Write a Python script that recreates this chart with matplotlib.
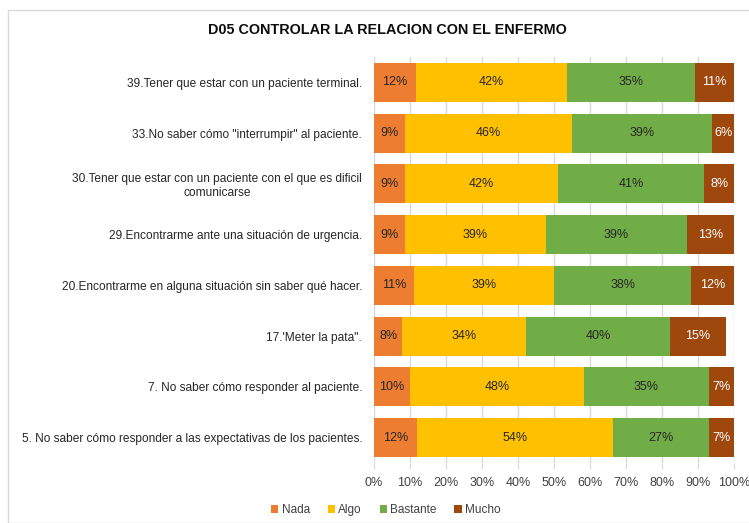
import matplotlib
matplotlib.use("Agg")
import matplotlib.pyplot as plt
from matplotlib.patches import Rectangle
from matplotlib.ticker import PercentFormatter

plt.rcParams['font.family'] = ['Liberation Sans', 'DejaVu Sans']

title = "D05 CONTROLAR LA RELACION CON EL ENFERMO"
categories = [
    "39.Tener que estar con un paciente terminal.",
    "33.No saber cómo \"interrumpir\" al paciente.",
    "30.Tener que estar con un paciente con el que es dificil\ncomunicarse",
    "29.Encontrarme ante una situación de urgencia.",
    "20.Encontrarme en alguna situación sin saber qué hacer.",
    "17.'Meter la pata\".",
    "7. No saber cómo responder al paciente.",
    "5. No saber cómo responder a las expectativas de los pacientes.",
]
series_names = ["Nada", "Algo", "Bastante", "Mucho"]
nada     = [11.7, 8.6, 8.6, 8.7, 11.1, 7.9, 10.1, 11.9]
algo     = [42.0, 46.3, 42.4, 39.0, 39.0, 34.2, 48.1, 54.4]
bastante = [35.4, 39.1, 40.8, 39.3, 38.0, 40.2, 34.9, 26.8]
mucho    = [10.9, 6.0, 8.2, 13.0, 11.9, 15.4, 6.9, 6.9]
colors = ["#ED7D31", "#FFC000", "#70AD47", "#9E480E"]
label_colors = ["#262626", "#262626", "#262626", "#FFFFFF"]

fig = plt.figure(figsize=(7.49, 5.23), dpi=100)
ax = fig.add_axes([374/749, 1-463/523, 360/749, (463-57)/523])

# chart border
fig.patches.append(Rectangle((8/749, 0), 1.0, 1-10/523, transform=fig.transFigure,
                             fill=False, edgecolor="#D9D9D9", linewidth=1.0))

ypos = list(range(len(categories)))[::-1]
left = [0.0]*len(categories)
for name, vals, c, lc in zip(series_names, [nada, algo, bastante, mucho], colors, label_colors):
    bars = ax.barh(ypos, vals, left=left, height=0.77, color=c, label=name, zorder=3)
    for b, v in zip(bars, vals):
        ax.text(b.get_x() + b.get_width()/2, b.get_y() + b.get_height()/2,
                f"{round(v):d}%", ha="center", va="center", color=lc, fontsize=9, zorder=4)
    left = [l + v for l, v in zip(left, vals)]

ax.set_xlim(0, 100)
ax.set_ylim(-0.5, len(categories) - 0.5)
ax.set_xticks(range(0, 101, 10))
ax.xaxis.set_major_formatter(PercentFormatter(decimals=0))
ax.set_yticks(ypos)
ax.set_yticklabels(categories, fontsize=8.6, color="#262626", ha="right", multialignment="center")
ax.tick_params(axis="y", length=0, pad=8.5)
ax.tick_params(axis="x", length=4, color="#D9D9D9", labelsize=9, labelcolor="#404040", pad=6)
ax.grid(axis="x", color="#D9D9D9", linewidth=1, zorder=0)
for s in ["top", "right", "left", "bottom"]:
    ax.spines[s].set_visible(False)

fig.text(387/749, 1-30/523, title, ha="center", va="center", fontsize=10.4, fontweight="bold", color="#0D0D0D")

fig.legend(loc="center", bbox_to_anchor=(386/749, 1-510/523), ncol=4, frameon=False,
           fontsize=8.5, handlelength=0.6, handleheight=0.6, handletextpad=0.3, columnspacing=1.5,
           labelcolor="#404040")

fig.savefig("out.png", dpi=100)
